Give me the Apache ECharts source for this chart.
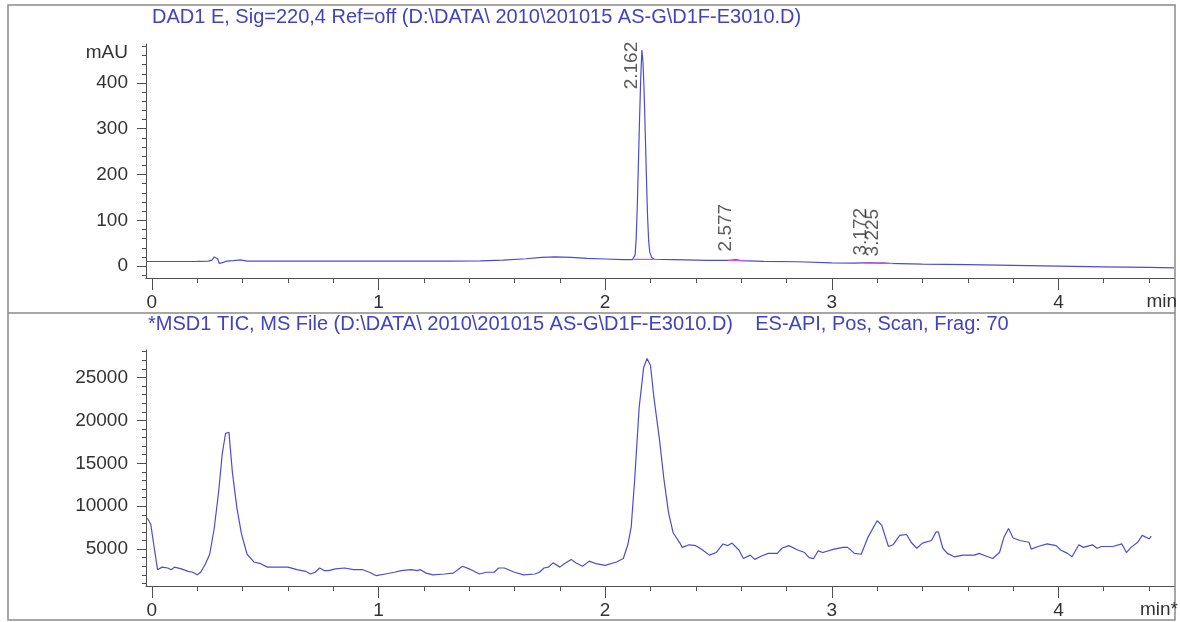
<!DOCTYPE html>
<html><head><meta charset="utf-8">
<script src="https://cdn.jsdelivr.net/npm/echarts@6/dist/echarts.min.js"></script>
<style>html,body{margin:0;padding:0;background:#fff}#c{width:1180px;height:622px}</style>
</head><body><div id="c"></div>
<script>
// ---- DAD1 E (UV 220 nm) trace ----
const dadTimes = [-0.026, 0, 0.1, 0.2, 0.25, 0.265, 0.275, 0.283, 0.29, 0.297, 0.305, 0.315, 0.33, 0.36, 0.39, 0.42, 0.5, 0.7, 1.0, 1.3, 1.45, 1.55, 1.65, 1.72, 1.78, 1.85, 1.92, 2.0, 2.08, 2.12,
  2.127, 2.132, 2.137, 2.142, 2.147, 2.152, 2.157, 2.162, 2.167, 2.172, 2.177, 2.182, 2.187, 2.192, 2.197, 2.205, 2.215,
  2.3, 2.45, 2.55, 2.577, 2.6, 2.7, 2.85, 3.0, 3.1, 3.172, 3.2, 3.225, 3.25, 3.4, 3.6, 3.8, 4.0, 4.2, 4.4, 4.51];
const dadValues = [10, 10, 10, 10.5, 11, 13, 20, 23, 16, 6, 4, 8, 11, 12, 13.5, 11, 11, 11, 11, 11, 11.5, 13, 16, 19, 20, 19, 17, 15.5, 14, 14,
  15, 24, 60, 135, 230, 325, 410, 472, 445, 380, 290, 195, 110, 55, 30, 19, 15,
  14, 12.5, 12.5, 14, 12, 10.5, 9.5, 7, 6.5, 7.5, 6.5, 7, 6, 4.5, 3, 1.5, 0, -1.5, -3, -4];
// integration baselines (start, end points)
const dadBaselines = [
  [[2.125, 14.5], [2.225, 14.5]],
  [[2.545, 12.7], [2.62, 11.8]],
  [[3.14, 7], [3.27, 5.8]]
];
// peak retention times and label anchor levels (mAU)
const peakTimes = [2.162, 2.577, 3.172, 3.225];
const peakLabelLevels = [385, 31, 22, 20];

// ---- MSD1 TIC trace ----
const ticTimes = [-0.02, -0.005, 0.01, 0.025, 0.045, 0.07, 0.085, 0.10, 0.13, 0.16, 0.18, 0.20, 0.215, 0.235, 0.255, 0.275, 0.295, 0.31, 0.325, 0.34, 0.355, 0.375, 0.395, 0.42, 0.45, 0.48, 0.51, 0.56, 0.60, 0.64, 0.68, 0.70, 0.72, 0.74, 0.76, 0.78, 0.81, 0.85, 0.89, 0.93, 0.96, 0.99,
  1.03, 1.07, 1.10, 1.145, 1.17, 1.185, 1.21, 1.24, 1.29, 1.33, 1.37, 1.40, 1.445, 1.475, 1.51, 1.53, 1.555, 1.60, 1.64, 1.69, 1.71, 1.73, 1.75, 1.77, 1.80, 1.82, 1.85, 1.87, 1.90, 1.93, 1.96,
  2.00, 2.05, 2.08, 2.10, 2.115, 2.13, 2.15, 2.17, 2.185, 2.20, 2.215, 2.24, 2.26, 2.28, 2.30, 2.33, 2.34, 2.37, 2.40, 2.43, 2.46, 2.49, 2.52, 2.54, 2.56, 2.59, 2.61, 2.64, 2.66, 2.69, 2.72, 2.76, 2.78, 2.81, 2.85, 2.88, 2.90, 2.92, 2.94, 2.96,
  3.01, 3.05, 3.07, 3.10, 3.13, 3.16, 3.20, 3.22, 3.25, 3.27, 3.30, 3.33, 3.35, 3.375, 3.40, 3.44, 3.46, 3.47, 3.49, 3.51, 3.54, 3.58, 3.63, 3.65, 3.68, 3.71, 3.74, 3.76, 3.78, 3.80, 3.83, 3.87, 3.88, 3.91, 3.95, 3.99,
  4.01, 4.04, 4.06, 4.09, 4.11, 4.15, 4.17, 4.19, 4.24, 4.28, 4.30, 4.32, 4.35, 4.37, 4.40, 4.41];
const ticValues = [8600, 7900, 5200, 2600, 2900, 2800, 2600, 2900, 2700, 2400, 2300, 2000, 2300, 3200, 4400, 7400, 11800, 16000, 18500, 18600, 14000, 9800, 6800, 4400, 3500, 3300, 2900, 2900, 2900, 2600, 2400, 2100, 2300, 2800, 2500, 2500, 2700, 2800, 2600, 2600, 2300, 1900,
  2100, 2300, 2500, 2600, 2500, 2600, 2200, 2000, 2100, 2200, 3000, 2700, 2100, 2300, 2300, 2800, 2800, 2300, 2000, 2100, 2300, 2800, 2900, 3400, 2900, 3300, 3800, 3400, 3000, 3600, 3300,
  3100, 3500, 3900, 5500, 7600, 13000, 21500, 26200, 27200, 26400, 22700, 17700, 13000, 9200, 6900, 5700, 5200, 5500, 5400, 4900, 4300, 4600, 5600, 5400, 5700, 4900, 3900, 4300, 3800, 4200, 4500, 4500, 5100, 5400, 4900, 4600, 4000, 3900, 4800, 4600,
  5000, 5200, 5200, 4500, 4400, 6400, 8300, 7800, 5300, 5500, 6600, 6700, 5800, 5100, 5700, 6000, 7000, 7000, 5100, 4500, 4100, 4300, 4300, 4500, 4200, 3900, 4600, 6400, 7400, 6300, 6000, 5800, 5000, 5300, 5600, 5400,
  4900, 4500, 4100, 5500, 5200, 5500, 5100, 5300, 5300, 5600, 4600, 5200, 5800, 6600, 6200, 6500];

// ---- axis ticks / labels ----
const xLabelValues = [0, 1, 2, 3, 4];
const xMinorValues = [0,0.2,0.4,0.6,0.8,1,1.2,1.4,1.6,1.8,2,2.2,2.4,2.6,2.8,3,3.2,3.4,3.6,3.8,4,4.2,4.4];
const dadLabelValues = [0, 100, 200, 300, 400];
const dadMinorValues = [-20,0,20,40,60,80,100,120,140,160,180,200,220,240,260,280,300,320,340,360,380,400,420,440,460,480];
const ticLabelValues = [5000, 10000, 15000, 20000, 25000];
const ticMinorValues = [1000,2000,3000,4000,5000,6000,7000,8000,9000,10000,11000,12000,13000,14000,15000,16000,17000,18000,19000,20000,21000,22000,23000,24000,25000,26000,27000,28000];

const topTitle = 'DAD1 E, Sig=220,4 Ref=off (D:\\DATA\\ 2010\\201015 AS-G\\D1F-E3010.D)';
const bottomTitle = '*MSD1 TIC, MS File (D:\\DATA\\ 2010\\201015 AS-G\\D1F-E3010.D)    ES-API, Pos, Scan, Frag: 70';

const FONT = 'Liberation Sans, Arial, sans-serif';
const AX = '#505050', TXT = '#333', TRACE = '#4c4cd0', TITLE = '#4242c2';

const zip = (a, b) => a.map((v, i) => [v, b[i]]);

function xAxes(grid) {
  return [
    { type: 'value', gridIndex: grid, position: 'bottom', min: -0.026, max: 4.51,
      axisLine: { show: true, onZero: false, lineStyle: { color: AX, width: 1 } },
      axisTick: { show: true, customValues: xLabelValues, length: 12, lineStyle: { color: AX } },
      axisLabel: { show: true, customValues: xLabelValues, margin: 15, fontSize: 19, color: TXT, fontFamily: FONT },
      splitLine: { show: false } },
    { type: 'value', gridIndex: grid, position: 'bottom', min: -0.026, max: 4.51,
      axisLine: { show: false, onZero: false },
      axisTick: { show: true, customValues: xMinorValues, length: 5, lineStyle: { color: AX } },
      axisLabel: { show: false }, splitLine: { show: false } }
  ];
}
function yAxes(grid, min, max, labels, minors) {
  return [
    { type: 'value', gridIndex: grid, position: 'left', min: min, max: max,
      axisLine: { show: true, onZero: false, lineStyle: { color: AX, width: 1 } },
      axisTick: { show: true, customValues: labels, length: 9, lineStyle: { color: AX } },
      axisLabel: { show: true, customValues: labels, margin: 18, fontSize: 19, color: TXT, fontFamily: FONT,
        formatter: v => String(v) },
      splitLine: { show: false } },
    { type: 'value', gridIndex: grid, position: 'left', min: min, max: max,
      axisLine: { show: false, onZero: false },
      axisTick: { show: true, customValues: minors, length: 4, lineStyle: { color: AX } },
      axisLabel: { show: false }, splitLine: { show: false } }
  ];
}

const series = [
  { type: 'line', xAxisIndex: 0, yAxisIndex: 0, data: zip(dadTimes, dadValues), showSymbol: false, symbol: 'none',
    lineStyle: { color: TRACE, width: 1.2 }, z: 3 }
];
dadBaselines.forEach(seg => series.push({
  type: 'line', xAxisIndex: 0, yAxisIndex: 0, data: seg, symbol: 'none',
  lineStyle: { color: '#e050c8', width: 1.2 }, z: 4
}));
series.push({
  type: 'scatter', xAxisIndex: 0, yAxisIndex: 0, data: zip(peakTimes, peakLabelLevels),
  symbol: 'circle', symbolSize: 1, itemStyle: { color: 'rgba(0,0,0,0)' }, clip: false, z: 5,
  label: { show: true, position: [0, 0], rotate: 90, align: 'left', verticalAlign: 'bottom',
    fontSize: 19, color: TXT, fontFamily: FONT,
    formatter: p => p.value[0].toFixed(3) }
});
series.push({ type: 'line', xAxisIndex: 2, yAxisIndex: 2, data: zip(ticTimes, ticValues), showSymbol: false, symbol: 'none',
  lineStyle: { color: TRACE, width: 1.2 } });

const chart = echarts.init(document.getElementById('c'), null, { renderer: 'canvas' });
chart.setOption({
  animation: false,
  backgroundColor: '#fff',
  title: [
    { text: topTitle, left: 152, top: 7, padding: 0, textStyle: { color: TITLE, fontSize: 20, fontWeight: 'normal', fontFamily: FONT } },
    { text: bottomTitle, left: 148, top: 314, padding: 0, textStyle: { color: TITLE, fontSize: 20, fontWeight: 'normal', fontFamily: FONT } }
  ],
  grid: [
    { left: 146, right: 6, top: 44, height: 234 },
    { left: 146, right: 6, top: 350, height: 236 }
  ],
  xAxis: [].concat(xAxes(0), xAxes(1)),
  yAxis: [].concat(yAxes(0, -26, 485, dadLabelValues, dadMinorValues), yAxes(1, 700, 28200, ticLabelValues, ticMinorValues)),
  series: series,
  graphic: [
    { type: 'rect', shape: { x: 8, y: 5, width: 1167, height: 615 }, style: { fill: 'none', stroke: '#8a8a8a', lineWidth: 1.5 }, silent: true },
    { type: 'line', shape: { x1: 8, y1: 313, x2: 1175, y2: 313 }, style: { stroke: '#8a8a8a', lineWidth: 1.5 }, silent: true },
    { type: 'text', x: 128, y: 53, style: { text: 'mAU', align: 'right', verticalAlign: 'middle', fontSize: 19, fill: TXT, fontFamily: FONT } },
    { type: 'text', x: 1177, y: 302, style: { text: 'min', align: 'right', verticalAlign: 'middle', fontSize: 19, fill: TXT, fontFamily: FONT } },
    { type: 'text', x: 1178, y: 610, style: { text: 'min*', align: 'right', verticalAlign: 'middle', fontSize: 19, fill: TXT, fontFamily: FONT } }
  ]
});
</script>
</body></html>
